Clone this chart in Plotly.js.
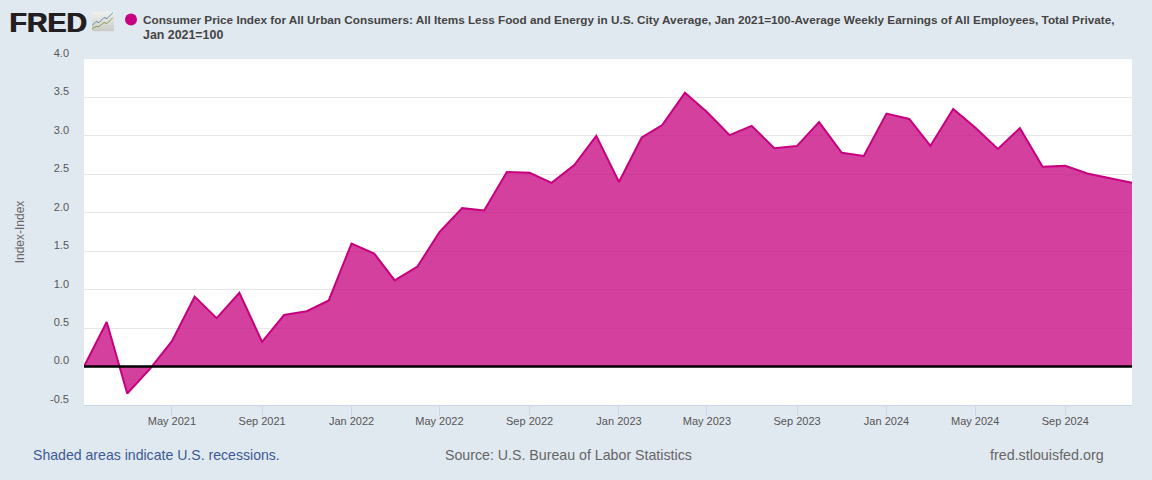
<!DOCTYPE html>
<html>
<head>
<meta charset="utf-8">
<script src="https://cdn.plot.ly/plotly-3.0.1.min.js"></script>
<style>html,body{margin:0;padding:0;background:#e1e9f0;overflow:hidden}#chart{width:1152px;height:480px}</style>
</head>
<body>
<div id="chart"></div>
<script>
const months = ["2021-01-01","2021-02-01","2021-03-01","2021-04-01","2021-05-01","2021-06-01","2021-07-01","2021-08-01","2021-09-01","2021-10-01","2021-11-01","2021-12-01",
"2022-01-01","2022-02-01","2022-03-01","2022-04-01","2022-05-01","2022-06-01","2022-07-01","2022-08-01","2022-09-01","2022-10-01","2022-11-01","2022-12-01",
"2023-01-01","2023-02-01","2023-03-01","2023-04-01","2023-05-01","2023-06-01","2023-07-01","2023-08-01","2023-09-01","2023-10-01","2023-11-01","2023-12-01",
"2024-01-01","2024-02-01","2024-03-01","2024-04-01","2024-05-01","2024-06-01","2024-07-01","2024-08-01","2024-09-01","2024-10-01","2024-11-01","2024-12-01"];
const values = [0,0.58,-0.35,-0.03,0.33,0.91,0.63,0.96,0.32,0.67,0.72,0.86,
1.60,1.47,1.12,1.30,1.75,2.06,2.03,2.53,2.52,2.39,2.62,3.00,
2.40,2.98,3.14,3.56,3.31,3.01,3.13,2.84,2.87,3.18,2.78,2.74,
3.29,3.22,2.87,3.35,3.11,2.83,3.10,2.60,2.61,2.51,2.45,2.39];
const xTickVals = ["2021-05-01","2021-09-01","2022-01-01","2022-05-01","2022-09-01","2023-01-01","2023-05-01","2023-09-01","2024-01-01","2024-05-01","2024-09-01"];
const xTickText = ["May 2021","Sep 2021","Jan 2022","May 2022","Sep 2022","Jan 2023","May 2023","Sep 2023","Jan 2024","May 2024","Sep 2024"];
const yTickVals = [-0.5,0,0.5,1,1.5,2,2.5,3,3.5,4];
const yTickText = ["-0.5","0.0","0.5","1.0","1.5","2.0","2.5","3.0","3.5","4.0"];
const titleLine1 = "Consumer Price Index for All Urban Consumers: All Items Less Food and Energy in U.S. City Average, Jan 2021=100-Average Weekly Earnings of All Employees, Total Private,";
const titleLine2 = "Jan 2021=100";

const W = 1152, H = 480, L = 84, R = 1132, T = 58.5, B = 405;
const px = v => (v - L) / (R - L), py = v => (B - v) / (B - T);
const FONT = '"Liberation Sans", Arial, sans-serif';
const iconSvg = '<svg xmlns="http://www.w3.org/2000/svg" width="23" height="20" viewBox="0 0 23 20">' +
 '<defs><linearGradient id="g" x1="0" y1="0" x2="0" y2="1"><stop offset="0" stop-color="#f2f2f0"/><stop offset="1" stop-color="#c9c9c4"/></linearGradient></defs>' +
 '<rect width="22" height="20" rx="2" fill="url(#g)"/>' +
 '<path d="M0 14 L4 10 L7 11 L12 6 L15 7 L21 1" fill="none" stroke="#5f8db0" stroke-width="1"/>' +
 '<path d="M0 17 L4 15 L7 15 L12 11 L15 12 L21 6" fill="none" stroke="#7fa34a" stroke-width="1"/></svg>';
const note = (text, x, y, size, color, extra) => ({text, xref: 'paper', yref: 'paper', x: px(x), y: py(y), xanchor: 'left', yanchor: 'middle', showarrow: false,
  font: Object.assign({family: FONT, size, color}, extra || {})});

Plotly.newPlot('chart', [{
  x: months, y: values, type: 'scatter', mode: 'lines', fill: 'tozeroy',
  line: {color: '#c6007e', width: 2, shape: 'linear'},
  fillcolor: 'rgba(198,0,126,0.75)', hoverinfo: 'x+y', showlegend: false
}], {
  width: W, height: H,
  paper_bgcolor: '#e1e9f0', plot_bgcolor: '#ffffff',
  margin: {l: L, r: W - R, t: T, b: H - B, pad: 0},
  font: {family: FONT, color: '#666666', size: 11},
  showlegend: false,
  xaxis: {
    type: 'date', range: ['2021-01-01', '2024-12-01'], fixedrange: true,
    tickmode: 'array', tickvals: xTickVals, ticktext: xTickText,
    ticks: 'outside', ticklen: 10, tickwidth: 1, tickcolor: '#ccd6eb',
    showline: true, linecolor: '#ccd6eb', linewidth: 1,
    showgrid: false, zeroline: false, ticklabelstandoff: -4,
    tickfont: {family: FONT, size: 11, color: '#555555'}, tickangle: 0
  },
  yaxis: {
    range: [-0.5, 4], fixedrange: true,
    tickmode: 'array', tickvals: yTickVals, ticktext: yTickText,
    ticks: '', showline: false, ticklabelshift: -6, ticklabelstandoff: 14,
    showgrid: true, gridcolor: '#e6e6e6', gridwidth: 1, zeroline: false,
    tickfont: {family: FONT, size: 11, color: '#555555'},
    title: {text: 'Index-Index', standoff: 22, font: {family: FONT, size: 12, color: '#666666'}}
  },
  shapes: [
    {type: 'line', xref: 'paper', x0: 0, x1: 1, yref: 'y', y0: 0, y1: 0, line: {color: '#000000', width: 2.4}, layer: 'above'},
    {type: 'circle', xref: 'paper', yref: 'paper', x0: px(125), x1: px(137), y0: py(25), y1: py(13), fillcolor: '#c6007e', line: {width: 0}, layer: 'above'}
  ],
  images: [{
    source: 'data:image/svg+xml;utf8,' + encodeURIComponent(iconSvg),
    xref: 'paper', yref: 'paper', x: px(92), y: py(11), sizex: 23 / (R - L), sizey: 20 / (B - T),
    xanchor: 'left', yanchor: 'top', sizing: 'contain', layer: 'above'
  }],
  annotations: [
    note('<b>FRED</b>', 7, 21, 28.5, '#231f20', {shadow: '1px 0 0 #231f20'}),
    note('<b>' + titleLine1 + '</b>', 141, 18.5, 11.75, '#444444'),
    note('<b>' + titleLine2 + '</b>', 141, 34, 12.4, '#444444'),
    note('Shaded areas indicate U.S. recessions.', 31, 455, 14.1, '#3c5a94'),
    note('Source: U.S. Bureau of Labor Statistics', 443, 455, 14.2, '#666666'),
    note('fred.stlouisfed.org', 988, 455, 14.3, '#666666')
  ]
}, {displayModeBar: false, responsive: false});
</script>
</body>
</html>
